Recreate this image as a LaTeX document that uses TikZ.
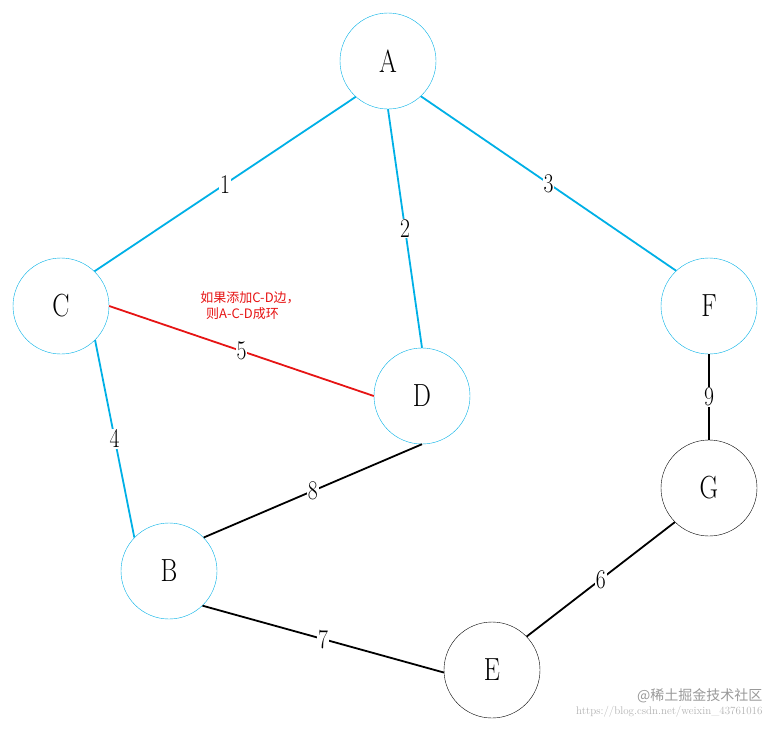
\documentclass[tikz,border=0pt]{standalone}
\usepackage{fontspec}
\newfontfamily\cjk{Noto Sans CJK SC}
\definecolor{cy}{RGB}{0,176,230}
\definecolor{rd}{RGB}{230,20,20}
\newcommand{\nl}[1]{\scalebox{0.8}[1]{#1}}
\begin{document}
\begin{tikzpicture}[x=1pt,y=-1pt,
  vx/.style={circle,draw=cy,minimum size=96pt,inner sep=0pt,font=\fontsize{32}{32}\selectfont,fill=white},
  vb/.style={vx,draw=black},
  eb/.style={draw=cy,line width=1.8pt},
  ek/.style={draw=black,line width=1.8pt},
  lb/.style={fill=white,text=black,inner sep=1pt,font=\fontsize{27}{27}\selectfont}]
\useasboundingbox (0,0) rectangle (774,732);
\node[vx] (A) at (388,61) {\nl{A}};
\node[vx] (C) at (61,306) {\nl{C}};
\node[vx] (D) at (422,396) {\nl{D}};
\node[vx] (F) at (709,306) {\nl{F}};
\node[vb] (G) at (709,488) {\nl{G}};
\node[vx] (B) at (169,571) {\nl{B}};
\node[vb] (E) at (492,670) {\nl{E}};
\draw[eb] (A.228) -- node[lb]{\nl{1}} (C.46);
\draw[eb] (A.270) -- node[lb,pos=0.5]{\nl{2}} (D.90);
\draw[eb] (A.313) -- node[lb,pos=0.5]{\nl{3}} (F.133);
\draw[draw=rd,line width=1.8pt] (C.0) -- node[lb]{\nl{5}} (D.180);
\draw[eb] (C.315) -- node[lb]{\nl{4}} (B.136);
\draw[ek] (D.270) -- node[lb]{\nl{8}} (B.44);
\draw[ek] (F.270) -- node[lb]{\nl{9}} (G.90);
\draw[ek] (G.225) -- node[lb]{\nl{6}} (E.44);
\draw[ek] (B.314) -- node[lb]{\nl{7}} (E.183);
\node[text=rd,font=\cjk\fontsize{13}{16}\selectfont,align=left] (note) at (250,306) {如果添加C-D边，\\\ \ 则A-C-D成环};
\node[text=gray!60,font=\fontsize{11}{11}\selectfont,anchor=east] (wm1) at (766,712) {https://blog.csdn.net/weixin\_43761016};
\node[text=gray!80,font=\cjk\fontsize{14}{14}\selectfont,anchor=east] (wm2) at (766,696) {@稀土掘金技术社区};
\end{tikzpicture}
\end{document}
